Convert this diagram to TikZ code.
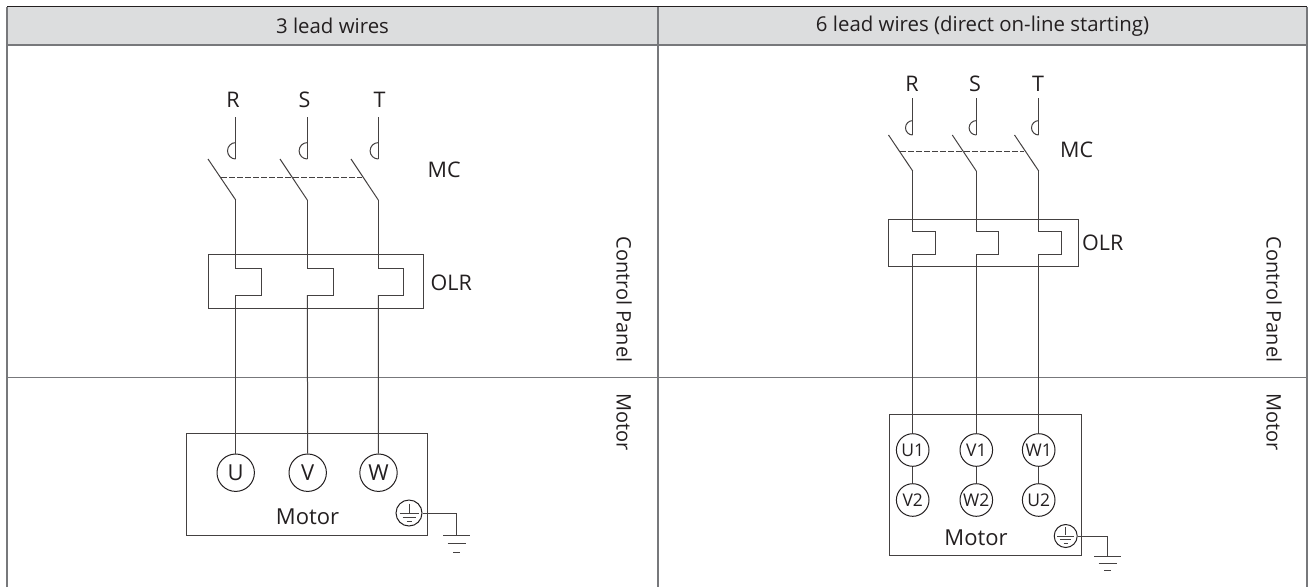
\documentclass[tikz,border=0pt]{standalone}
\usepackage{fontspec}
\setmainfont{Open Sans}
\definecolor{ink}{HTML}{231F20}
\definecolor{rule}{HTML}{77787B}
\definecolor{hdrfill}{HTML}{DCDDDE}
\tikzset{
  x=1pt,y=-1pt,
  wire/.style={draw=ink!85!white,line width=1pt},
  dashwire/.style={draw=ink!85!white,line width=1pt,dash pattern=on 5.5pt off 2.5pt},
  frameline/.style={draw=rule,line width=1.3pt},
  lbl/.style={text=ink,font=\fontsize{21.5}{26}\selectfont,inner sep=0pt},
  motorlbl/.style={text=ink,font=\fontsize{22}{26}\selectfont,inner sep=0pt},
  hdr/.style={text=ink,font=\fontsize{20.4}{24}\selectfont,inner sep=0pt},
  side/.style={text=ink,font=\fontsize{20}{26}\selectfont,inner sep=0pt,rotate=-90,anchor=base west},
  termA/.style={circle,draw=ink,line width=1pt,minimum size=37.4pt,inner sep=0pt,text=ink,font=\fontsize{22}{26}\selectfont},
  termB/.style={circle,draw=ink,line width=1pt,minimum size=32.6pt,inner sep=0pt,text=ink,font=\fontsize{17.5}{22}\selectfont},
  earthcirc/.style={circle,draw=ink,line width=1pt,inner sep=0pt},
  boxed/.style={draw=ink!85!white,line width=1pt},
}
% \phaseline{name}{x}{ytop}{yarcbottom}{switchbottom}{coil dx}{coiltop}{coilbottom}
\newcommand{\phaseline}[8]{%
  \coordinate (t#1) at (#2,#3);
  \coordinate (a#1) at (#2,#4);
  \coordinate (b#1) at (#2,#5);
  \coordinate (c#1) at (#2,#7);
  \coordinate (d#1) at (#2+#6,#7);
  \coordinate (e#1) at (#2+#6,#8);
  \coordinate (f#1) at (#2,#8);
  \draw[wire] (t#1) -- (a#1);
  \draw[wire] (b#1) -- (c#1) -- (d#1) -- (e#1) -- (f#1);
}
\newcommand{\earthbars}[6]{%
  \draw[wire] (#1) -| (#2,#3);
  \coordinate (gA#6) at (#2-13.5,#3); \coordinate (gB#6) at (#2+13.5,#3);
  \coordinate (gC#6) at (#2-9,#4); \coordinate (gD#6) at (#2+9,#4);
  \coordinate (gE#6) at (#2-3.5,#5); \coordinate (gF#6) at (#2+3.5,#5);
  \draw[wire] (gA#6) -- (gB#6);
  \draw[wire] (gC#6) -- (gD#6);
  \draw[wire] (gE#6) -- (gF#6);
}
\begin{document}
\begin{tikzpicture}
\useasboundingbox (0,0) rectangle (1308,587);
% table
\fill[hdrfill] (7,7) rectangle (1307,45);
\coordinate (tl) at (7,587); \coordinate (tlt) at (7,6.5);
\coordinate (trt) at (1307,6.5); \coordinate (tr) at (1307,587);
\draw[frameline] (tl) -- (tlt);
\draw[frameline] (trt) -- (tr);
\draw[draw=ink,line width=1.1pt] (tlt) -- (trt);
\coordinate (hl) at (7,45); \coordinate (hr) at (1307,45);
\coordinate (ml) at (7,377.7); \coordinate (mr) at (1307,377.7);
\coordinate (vt) at (658,7); \coordinate (vb) at (658,587);
\draw[frameline] (hl) -- (hr);
\draw[frameline] (ml) -- (mr);
\draw[frameline] (vt) -- (vb);
\node[hdr] (h1) at (332.5,26) {3 lead wires};
\node[hdr] (h2) at (982.5,26) {6 lead wires (direct on-line starting)};
\node[side] (cp1) at (616.5,236.5) {Control Panel};
\node[side] (m1) at (616.5,393) {Motor};
\node[side] (cp2) at (1266.5,236.5) {Control Panel};
\node[side] (m2) at (1266.5,393) {Motor};

% LEFT
\node[lbl] (labR) at (233,100) {R};
\node[lbl] (labS) at (304.5,100) {S};
\node[lbl] (labT) at (379.5,100) {T};
\node[lbl,anchor=west] (labMC) at (427.5,170) {MC};
\node[lbl,anchor=west] (labOLR) at (430.5,283) {OLR};
\phaseline{R}{235.7}{117}{159}{200}{25.3}{268}{295}
\phaseline{S}{307.3}{117}{159}{200}{26}{268}{295}
\phaseline{T}{378.3}{117}{159}{200}{25.5}{268}{295}
\foreach \n in {R,S,T}{\draw[wire] (a\n) arc[start angle=90,end angle=270,radius=8.2];}
\coordinate (swR) at (208,159);
\coordinate (swS) at (280,159);
\coordinate (swT) at (351,159);
\draw[wire] (swR) -- (bR);
\draw[wire] (swS) -- (bS);
\draw[wire] (swT) -- (bT);
\coordinate (dl1) at (221,177.5); \coordinate (dr1) at (362,177.5);
\draw[dashwire] (dl1) -- (dr1);
\draw[boxed] (208,254.5) rectangle (423,308);
\draw[boxed] (186.7,433.3) rectangle (427,535.5);
\node[termA] (U) at (235.7,472.7) {U};
\node[termA] (V) at (307.7,472.7) {V};
\node[termA] (W) at (378.5,472.7) {W};
\draw[wire] (fR) -- (U);
\draw[wire] (fS) -- (V);
\draw[wire] (fT) -- (W);
\node[motorlbl] (mot1) at (307.5,517) {Motor};
\node[earthcirc,minimum size=26pt] (ea) at (409,513) {};
\earthbars{ea}{456.7}{535.5}{543.7}{552}{L}
\draw[wire] (ea.north) ++(0,4) -- ++(0,9);
\draw[wire] (ea.center) ++(-9.5,0) -- ++(19,0);
\draw[wire] (ea.center) ++(-6.5,4) -- ++(13,0);
\draw[wire] (ea.center) ++(-2.5,8) -- ++(5,0);

% RIGHT
\node[lbl] (labR2) at (912,84) {R};
\node[lbl] (labS2) at (975,84) {S};
\node[lbl] (labT2) at (1038,84) {T};
\node[lbl,anchor=west] (labMC2) at (1060,150) {MC};
\node[lbl,anchor=west] (labOLR2) at (1082,243) {OLR};
\phaseline{R2}{912.7}{98}{135}{171}{22.3}{231}{254}
\phaseline{S2}{976.3}{98}{135}{171}{22.4}{231}{254}
\phaseline{T2}{1038.7}{98}{135}{171}{22.3}{231}{254}
\foreach \n in {R2,S2,T2}{\draw[wire] (a\n) arc[start angle=90,end angle=270,radius=7.2];}
\coordinate (swR2) at (888.5,135);
\coordinate (swS2) at (952.3,135);
\coordinate (swT2) at (1014.5,135);
\draw[wire] (swR2) -- (bR2);
\draw[wire] (swS2) -- (bS2);
\draw[wire] (swT2) -- (bT2);
\coordinate (dl2) at (900,151); \coordinate (dr2) at (1024,151);
\draw[dashwire] (dl2) -- (dr2);
\draw[boxed] (888.5,219) rectangle (1078,266);
\draw[boxed] (889,414.7) rectangle (1081.7,555.7);
\node[termB] (U1) at (912.7,450) {U1};
\node[termB] (V1) at (976.3,450) {V1};
\node[termB] (W1) at (1038.7,450) {W1};
\node[termB] (V2) at (912.7,500) {V2};
\node[termB] (W2) at (976.3,500) {W2};
\node[termB] (U2) at (1038.7,500) {U2};
\draw[wire] (fR2) -- (U1);
\draw[wire] (fS2) -- (V1);
\draw[wire] (fT2) -- (W1);
\draw[wire] (U1) -- (V2);
\draw[wire] (V1) -- (W2);
\draw[wire] (W1) -- (U2);
\node[motorlbl] (mot2) at (976,538) {Motor};
\node[earthcirc,minimum size=23pt] (eb) at (1065.7,536) {};
\earthbars{eb}{1107.7}{556}{563.3}{570}{R}
\draw[wire] (eb.north) ++(0,3) -- ++(0,8);
\draw[wire] (eb.center) ++(-8.5,0) -- ++(17,0);
\draw[wire] (eb.center) ++(-5.5,3.5) -- ++(11,0);
\draw[wire] (eb.center) ++(-2,7) -- ++(4,0);
\end{tikzpicture}
\end{document}
